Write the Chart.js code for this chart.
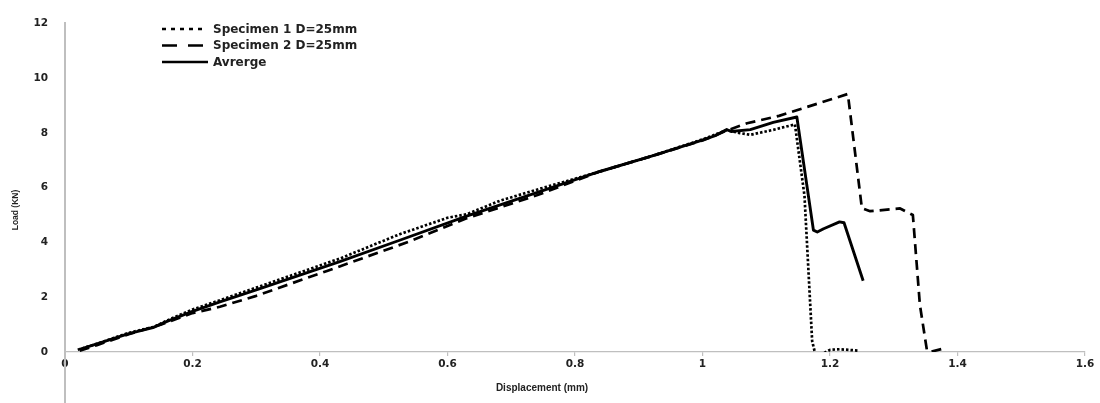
<!DOCTYPE html>
<html><head><meta charset="utf-8">
<script src="https://cdn.jsdelivr.net/npm/chart.js@4/dist/chart.umd.min.js"></script>
<style>html,body{margin:0;padding:0;background:#fff}#wrap{width:1100px;height:403px;position:relative}</style>
</head><body><div id="wrap"><canvas id="c" width="1100" height="403"></canvas></div>
<script>
// ---- data ----
const seriesNames = ['Specimen 1 D=25mm', 'Specimen 2 D=25mm', 'Avrerge'];

const spec1X = [0.02, 0.05, 0.1, 0.14, 0.16, 0.2, 0.243, 0.3, 0.431, 0.525, 0.6, 0.63, 0.682, 0.745, 0.839, 0.92, 1.0, 1.038, 1.059, 1.075, 1.111, 1.145, 1.16, 1.172, 1.178, 1.19, 1.2, 1.215, 1.245];
const spec1Y = [0.08, 0.3, 0.7, 0.92, 1.15, 1.55, 1.89, 2.35, 3.41, 4.3, 4.9, 5.03, 5.52, 5.96, 6.59, 7.15, 7.76, 8.1, 7.99, 7.93, 8.11, 8.31, 5.7, 0.4, -0.18, -0.05, 0.08, 0.1, 0.05];

const spec2X = [0.023, 0.05, 0.1, 0.15, 0.2, 0.243, 0.3, 0.411, 0.541, 0.63, 0.74, 0.839, 0.92, 1.0, 1.04, 1.07, 1.12, 1.228, 1.25, 1.263, 1.31, 1.33, 1.341, 1.352, 1.357, 1.38];
const spec2Y = [0.05, 0.25, 0.65, 1.0, 1.42, 1.65, 2.05, 2.96, 4.04, 4.88, 5.72, 6.59, 7.15, 7.72, 8.1, 8.35, 8.62, 9.42, 5.25, 5.14, 5.24, 5.0, 1.72, 0.07, 0.0, 0.14];

const avgX = [0.023, 0.05, 0.1, 0.138, 0.16, 0.2, 0.243, 0.3, 0.431, 0.525, 0.63, 0.74, 0.839, 0.92, 0.996, 1.02, 1.038, 1.045, 1.075, 1.111, 1.148, 1.174, 1.18, 1.19, 1.215, 1.222, 1.252];
const avgY = [0.1, 0.3, 0.67, 0.89, 1.12, 1.48, 1.83, 2.27, 3.3, 4.08, 4.96, 5.82, 6.59, 7.15, 7.71, 7.9, 8.12, 8.05, 8.12, 8.38, 8.58, 4.45, 4.38, 4.5, 4.75, 4.72, 2.6];

const xTickLabels = ['0', '0.2', '0.4', '0.6', '0.8', '1', '1.2', '1.4', '1.6'];
const yTickLabels = ['0', '2', '4', '6', '8', '10', '12'];
const xAxisTitle = 'Displacement (mm)';
const yAxisTitle = 'Load (KN)';

// ---- build ----
const pts = (xs, ys) => xs.map((x, i) => ({x, y: ys[i]}));
const lineStyles = [
  {dash: [2.5, 2], legendDash: [4, 5], width: 2.7},
  {dash: [10, 6], legendDash: [15, 11], width: 2.7},
  {dash: [], legendDash: [], width: 2.9}
];
const seriesData = [pts(spec1X, spec1Y), pts(spec2X, spec2Y), pts(avgX, avgY)];

const datasets = seriesNames.map((name, i) => ({
  label: name,
  data: seriesData[i],
  showLine: true,
  borderColor: '#000',
  backgroundColor: '#000',
  borderWidth: lineStyles[i].width,
  borderDash: lineStyles[i].dash,
  pointRadius: 0,
  tension: 0,
  borderJoinStyle: 'round'
}));

const extras = {
  id: 'extras',
  afterDraw(chart) {
    const ctx = chart.ctx, ca = chart.chartArea;
    ctx.save();
    ctx.strokeStyle = '#bfbfbf';
    ctx.lineWidth = 2;
    ctx.beginPath();
    ctx.moveTo(ca.left, ca.bottom);
    ctx.lineTo(ca.left, 403);
    ctx.stroke();

    ctx.fillStyle = '#222';
    ctx.textAlign = 'center';
    ctx.textBaseline = 'middle';
    ctx.font = 'bold 10px "Liberation Sans"';
    ctx.fillText(xAxisTitle, 542, 388);
    ctx.save();
    ctx.translate(16, 210);
    ctx.rotate(-Math.PI / 2);
    ctx.font = 'bold 8.5px "Liberation Sans Narrow", "Liberation Sans"';
    ctx.fillText(yAxisTitle, 0, 0);
    ctx.restore();

    // legend
    const rows = [29, 45.5, 62];
    const lx0 = 162, lx1 = [203, 203, 208];
    ctx.textAlign = 'left';
    ctx.font = 'bold 12px "DejaVu Sans"';
    chart.data.datasets.forEach((ds, i) => {
      ctx.strokeStyle = '#000';
      ctx.lineWidth = 2.6;
      ctx.setLineDash(lineStyles[i].legendDash);
      ctx.beginPath();
      ctx.moveTo(lx0, rows[i]);
      ctx.lineTo(lx1[i], rows[i]);
      ctx.stroke();
      ctx.setLineDash([]);
      ctx.fillStyle = '#222';
      ctx.fillText(ds.label, 213, rows[i] + 0.5);
    });
    ctx.restore();
  }
};

new Chart(document.getElementById('c'), {
  type: 'scatter',
  data: {datasets},
  plugins: [extras],
  options: {
    responsive: false,
    animation: false,
    layout: {padding: {left: 0, right: 15, top: 11, bottom: 0}},
    plugins: {legend: {display: false}, tooltip: {enabled: false}},
    scales: {
      x: {
        type: 'linear',
        min: 0, max: 1.6,
        afterFit: s => { s.height = 51; },
        afterBuildTicks: s => { s.ticks = xTickLabels.map(t => ({value: parseFloat(t)})); },
        ticks: {
          callback: (v, i) => xTickLabels[i],
          color: '#222',
          font: {family: 'DejaVu Sans', size: 10.5, weight: 'bold'},
          padding: 2,
          maxRotation: 0,
          autoSkip: false
        },
        grid: {display: true, drawOnChartArea: false, drawTicks: true, tickLength: 4, color: '#bfbfbf', lineWidth: 1.2},
        border: {display: true, color: '#bfbfbf', width: 1.3}
      },
      y: {
        type: 'linear',
        min: 0, max: 12,
        afterFit: s => { s.width = 65; },
        afterBuildTicks: s => { s.ticks = yTickLabels.map(t => ({value: parseFloat(t)})); },
        ticks: {
          callback: (v, i) => yTickLabels[i],
          color: '#222',
          font: {family: 'DejaVu Sans', size: 10.5, weight: 'bold'},
          padding: 17,
          autoSkip: false
        },
        grid: {display: false, drawTicks: false},
        border: {display: true, color: '#bfbfbf', width: 2}
      }
    }
  }
});
</script>
</body></html>
